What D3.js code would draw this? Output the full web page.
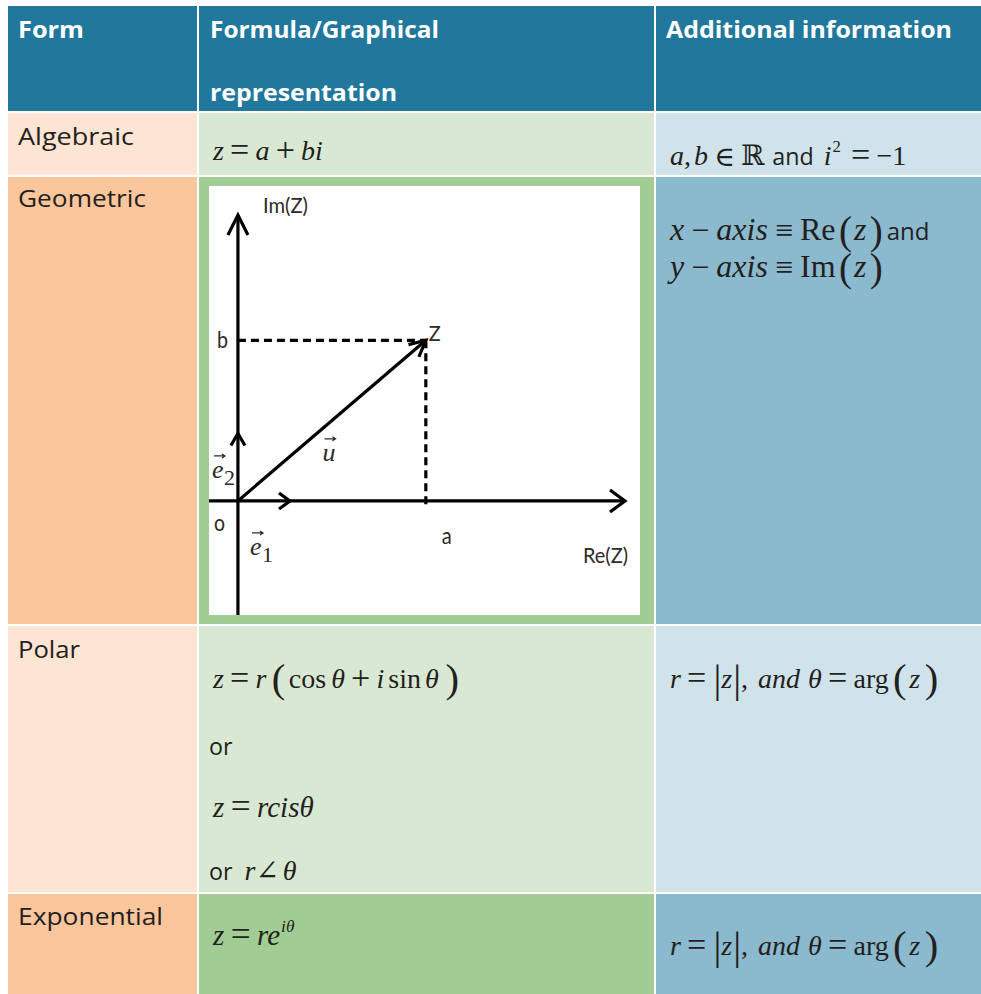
<!DOCTYPE html>
<html><head><meta charset="utf-8">
<script src="https://cdn.jsdelivr.net/npm/d3@7"></script>
<style>
html,body{margin:0;padding:0;background:#fff;}
text{white-space:pre;}
</style></head>
<body><svg id="c" width="981" height="994"></svg>
<script>
// ---------- data ----------
const headers = [["Form"], ["Formula/Graphical", "representation"], ["Additional information"]];
const forms = ["Algebraic", "Geometric", "Polar", "Exponential"];
// formula segments: [text, kind, extra gap]  i=italic serif, r=roman serif, o=operator, s=sans,
// u=superscript italic, ur=superscript roman, P=tall parenthesis, B=tall bar
const formulaAlg = [["z","i"],["=","o"],["a","i"],["+","o"],["bi","i"]];
const formulaPolar1 = [["z","i"],["=","o"],["r","i"],["(","P",3],["cos","r",2],["θ","i",5],["+","o"],["i","i"],["sin","r",4],["θ","i",4],[")","P",4]];
const formulaPolarOr = [["or","s"]];
const formulaPolar2 = [["z","i"],["=","o"],["rcisθ","i"]];
const formulaPolar3 = [["or","s"],["r","i",12],["∠","r"],["θ","i",4]];
const formulaExp = [["z","i"],["=","o"],["re","i"],["iθ","u"]];
const infoAlg = [["a","i"],[",","r"],["b","i",3],["∈","o"],["ℝ","r"],["and","s",8],["i","i",10],["2","ur"],["=","o",4],["−1","r"]];
const infoGeo1 = [["x","i"],["−","o"],["axis","i"],["≡","o"],["Re","r"],["(","P",1],["z","i"],[")","P"],["and","s",4]];
const infoGeo2 = [["y","i"],["−","o"],["axis","i"],["≡","o"],["Im","r"],["(","P",1],["z","i"],[")","P"]];
const infoPolar = [["r","i"],["=","o"],["|","B"],["z","i"],["|","B"],[",","r"],["and","i",10],["θ","i",8],["=","o"],["arg","r"],["(","P",2],["z","i",1],[")","P",2]];
const infoExp = infoPolar;
// geometric diagram values (complex plane units)
const pointZ = {re: 1, im: 1};
const unitE1 = 0.277, unitE2 = 0.42;
const reDomain = [-0.154, 2.06], imDomain = [-0.71, 1.78];

// ---------- layout / style ----------
const svg = d3.select("#c");
const colX = [8, 198, 655, 981];
const rowY = [6, 112, 176, 625, 893, 994];
const headerColor = "#21789c";
const lightCols = ["#fde4d3", "#d8e8d2", "#d1e3ea"];
const darkCols  = ["#fbc69c", "#a1cd94", "#8bb9ce"];
const txt = "#231f20";
const SANS = "'Open Sans', 'Noto Sans', sans-serif";
const SERIF = "'Liberation Serif', 'DejaVu Serif', serif";

// cells
for (let r = 0; r < 5; r++) {
  for (let c = 0; c < 3; c++) {
    const fill = r === 0 ? headerColor : (r % 2 === 1 ? lightCols[c] : darkCols[c]);
    svg.append("rect")
      .attr("x", colX[c] + (c === 0 ? 0 : 1))
      .attr("y", rowY[r] + (r === 0 ? 0 : 1))
      .attr("width", colX[c+1] - colX[c] - (c === 0 ? 1 : 2) + (c === 2 ? 1 : 0))
      .attr("height", rowY[r+1] - rowY[r] - (r === 0 ? 1 : 2) + (r === 4 ? 1 : 0))
      .attr("fill", fill);
  }
}

// header text
const headerX = [18, 210, 666];
const headerW = [[66], [229, 187], [286]];
headers.forEach((lines, c) => {
  lines.forEach((l, k) => {
    svg.append("text").attr("x", headerX[c]).attr("y", 38 + k * 63)
      .attr("font-family", SANS).attr("font-weight", "bold").attr("font-size", 24)
      .attr("fill", "#fff").attr("textLength", headerW[c][k]).attr("lengthAdjust", "spacingAndGlyphs")
      .text(l);
  });
});

// form labels
const formY = [145, 207, 658, 925];
const formW = [116, 128, 62, 145];
forms.forEach((f, i) => {
  svg.append("text").attr("x", 18).attr("y", formY[i])
    .attr("font-family", SANS).attr("font-size", 24).attr("fill", txt)
    .attr("textLength", formW[i]).attr("lengthAdjust", "spacingAndGlyphs")
    .text(f);
});

function mathText(x, y, segs, size, pScale) {
  const t = svg.append("text").attr("x", x).attr("y", y).attr("fill", txt);
  let shift = 0, pending = 0;
  const gap = size * 0.22;
  pScale = pScale || 1.45;
  segs.forEach(([s, k, extra]) => {
    const ts = t.append("tspan").text(s);
    let target = 0, fs = size, fam = SERIF, style = "normal", dx = pending + (extra || 0);
    pending = 0;
    if (k === "i") style = "italic";
    if (k === "o") { dx += gap; pending = gap; fs = (s === "=" || s === "+") ? size * 1.22 : size; target = size * 0.03; }
    if (k === "s") { fam = SANS; fs = Math.min(size * 0.83, 24); }
    if (k === "u" || k === "ur") { fs = size * 0.6; target = -size * 0.45; style = k === "u" ? "italic" : "normal"; dx += 1; }
    if (k === "P") {
      fs = size * pScale; target = size * 0.13;
      const open = s === "(";
      dx += open ? size * 0.08 : size * 0.1; pending = open ? size * 0.06 : 0;
    }
    if (k === "B") { fs = size * 1.4; target = size * 0.15; dx += 1; }
    ts.attr("font-family", fam).attr("font-style", style).attr("font-size", fs)
      .attr("dy", target - shift).attr("dx", dx || null);
    shift = target;
  });
  return t;
}

// column 2 formulas
mathText(213, 160, formulaAlg, 28);
mathText(213, 688, formulaPolar1, 28);
mathText(209, 755, formulaPolarOr, 28);
mathText(213, 817, formulaPolar2, 29);
mathText(209, 880, formulaPolar3, 28);
mathText(213, 945, formulaExp, 29);

// column 3 info
mathText(670, 165, infoAlg, 28);
mathText(670, 240, infoGeo1, 32, 1.22);
mathText(670, 277, infoGeo2, 32, 1.22);
mathText(670, 688, infoPolar, 28);
mathText(670, 955, infoExp, 28);

// ---------- geometric diagram ----------
const box = {x0: 209, x1: 640, y0: 186, y1: 615};
svg.append("rect").attr("x", box.x0).attr("y", box.y0)
  .attr("width", box.x1 - box.x0).attr("height", box.y1 - box.y0).attr("fill", "#fff");
const xs = d3.scaleLinear().domain(reDomain).range([box.x0, 625]);
const ys = d3.scaleLinear().domain(imDomain).range([box.y1, 215]);
const g = svg.append("g");
const X0 = xs(0), Y0 = ys(0);

function line(x1, y1, x2, y2, dash) {
  g.append("line").attr("x1", x1).attr("y1", y1).attr("x2", x2).attr("y2", y2)
    .attr("stroke", "#000").attr("stroke-width", 3.2)
    .attr("stroke-dasharray", dash ? "8,5" : null);
}
function chevron(fx, fy, tx, ty, back, half, w) {
  const dx = tx - fx, dy = ty - fy, L = Math.hypot(dx, dy);
  const ux = dx / L, uy = dy / L, nx = -uy, ny = ux;
  const bx = tx - ux * back, by = ty - uy * back;
  g.append("path")
    .attr("d", `M${bx + nx*half},${by + ny*half}L${tx},${ty}L${bx - nx*half},${by - ny*half}`)
    .attr("fill", "none").attr("stroke", "#000").attr("stroke-width", w || 3.2)
    .attr("stroke-linejoin", "miter");
}
// axes
line(xs(reDomain[0]), Y0, xs(reDomain[1]), Y0);
chevron(X0, Y0, xs(reDomain[1]), Y0, 15, 11);
line(X0, ys(imDomain[0]), X0, ys(imDomain[1]));
chevron(X0, Y0, X0, ys(imDomain[1]), 20, 10);
// unit vectors
chevron(X0, Y0, xs(unitE1), Y0, 11, 8);
chevron(X0, Y0, X0, ys(unitE2), 12, 7);
// dashed projections
line(X0, ys(pointZ.im), xs(pointZ.re), ys(pointZ.im), true);
line(xs(pointZ.re), ys(pointZ.im), xs(pointZ.re), Y0 + 7, true);
// vector u
line(X0, Y0, xs(pointZ.re), ys(pointZ.im));
chevron(X0, Y0, xs(pointZ.re), ys(pointZ.im), 16, 8);

// labels
const lblSans = "'Lato', 'Open Sans', sans-serif";
const lblColor = "#2e2a26";
function lbl(x, y, s, size, w, fam, style) {
  const t = g.append("text").attr("x", x).attr("y", y).attr("font-family", fam || lblSans)
    .attr("font-size", size).attr("fill", lblColor).attr("font-style", style || "normal").text(s);
  if (w) t.attr("textLength", w).attr("lengthAdjust", "spacingAndGlyphs");
  return t;
}
lbl(X0 + 25, ys(imDomain[1]) - 2, "Im(Z)", 21, 45);
lbl(X0 - 21, ys(pointZ.im) + 8, "b", 23, 11);
lbl(xs(pointZ.re) + 3, ys(pointZ.im) + 1, "Z", 22, 12);
lbl(X0 - 24, Y0 + 30, "o", 23, 11);
lbl(xs(pointZ.re) + 16, Y0 + 43, "a", 23, 10);
lbl(xs(reDomain[1]) - 42, Y0 + 62, "Re(Z)", 21, 45);
// vector symbols
function vecSym(x, y, letter, sub) {
  g.append("text").attr("x", x).attr("y", y).attr("font-family", SERIF).attr("font-style", "italic")
    .attr("font-size", 26).attr("fill", lblColor).text(letter);
  if (sub) g.append("text").attr("x", x + 12).attr("y", y + 7).attr("font-family", SERIF)
    .attr("font-size", 22).attr("fill", lblColor).text(sub);
  const ay = y - 22, ax0 = x + 2, ax1 = x + 13;
  g.append("path").attr("d", `M${ax0},${ay}L${ax1},${ay}M${ax1 - 3},${ay - 2}L${ax1},${ay}L${ax1 - 3},${ay + 2}`)
    .attr("stroke", lblColor).attr("stroke-width", 1.3).attr("fill", "none");
}
vecSym(xs(pointZ.re * 0.45), ys(pointZ.im * 0.25), "u");
vecSym(X0 - 26, Y0 - 23, "e", "2");
vecSym(X0 + 12, Y0 + 54, "e", "1");
</script></body></html>
